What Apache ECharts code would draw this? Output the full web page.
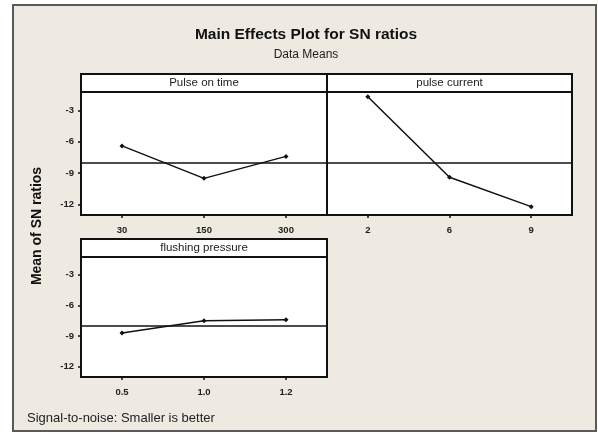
<!DOCTYPE html>
<html>
<head>
<meta charset="utf-8">
<script src="https://cdn.jsdelivr.net/npm/echarts@6/dist/echarts.min.js"></script>
<style>html,body{margin:0;padding:0;background:#fff;}#c{width:598px;height:434px;}</style>
</head>
<body>
<div id="c"></div>
<script>
// ---- data ----
const pulseOnTimeLevels = ['30', '150', '300'];
const pulseOnTimeSN = [-6.4, -9.5, -7.4];
const pulseCurrentLevels = ['2', '6', '9'];
const pulseCurrentSN = [-1.7, -9.4, -12.2];
const flushingPressureLevels = ['0.5', '1.0', '1.2'];
const flushingPressureSN = [-8.7, -7.5, -7.4];
const overallMean = -8.0;
const yTickValues = [-3, -6, -9, -12];
const panelTitles = ['Pulse on time', 'pulse current', 'flushing pressure'];
const chartTitle = 'Main Effects Plot for SN ratios';
const chartSubtitle = 'Data Means';
const yAxisTitle = 'Mean of SN ratios';
const footNote = 'Signal-to-noise: Smaller is better';

const FONT = 'Liberation Sans, Arial, sans-serif';
const grids = [
  {left: 81, top: 92, width: 246, height: 123},
  {left: 327, top: 92, width: 245, height: 123},
  {left: 81, top: 257, width: 246, height: 120}
];
const levels = [pulseOnTimeLevels, pulseCurrentLevels, flushingPressureLevels];
const values = [pulseOnTimeSN, pulseCurrentSN, flushingPressureSN];
const showYLabels = [true, false, true];
const HEADER = 18;

const chart = echarts.init(document.getElementById('c'), null, {renderer: 'canvas'});

const option = {
  backgroundColor: '#ffffff',
  animation: false,
  grid: grids.map(g => Object.assign({
    show: true, borderColor: '#111', borderWidth: 2, backgroundColor: '#ffffff', containLabel: false
  }, g)),
  xAxis: levels.map((cats, i) => ({
    type: 'category', gridIndex: i, data: cats, boundaryGap: true,
    axisLine: {show: false},
    axisTick: {show: true, alignWithLabel: true, length: 3, inside: false, lineStyle: {color: '#111', width: 1.5}},
    axisLabel: {show: true, margin: 10, fontSize: 9.5, fontWeight: 'bold', color: '#222', fontFamily: FONT},
    splitLine: {show: false}
  })),
  yAxis: levels.map((cats, i) => ({
    type: 'value', gridIndex: i, min: -13, max: -1.25,
    axisLine: {show: false},
    axisTick: {show: showYLabels[i], length: 3, customValues: yTickValues, lineStyle: {color: '#111', width: 1.5}},
    axisLabel: {show: showYLabels[i], customValues: yTickValues, margin: 7, fontSize: 9.5, fontWeight: 'bold', color: '#222', fontFamily: FONT},
    splitLine: {show: false}
  })),
  series: values.map((v, i) => ({
    type: 'line', xAxisIndex: i, yAxisIndex: i, data: v,
    symbol: 'diamond', symbolSize: 5,
    lineStyle: {color: '#111', width: 1.5},
    itemStyle: {color: '#111'},
    z: 3,
    markLine: {
      silent: true, symbol: ['none', 'none'], label: {show: false},
      lineStyle: {color: '#111', width: 1.5, type: 'solid'},
      data: [{yAxis: overallMean}]
    }
  })),
  graphic: [
    {type: 'rect', z: -10, shape: {x: 13, y: 5, width: 583, height: 426},
     style: {fill: '#EEEAE1', stroke: '#5a5a5a', lineWidth: 2}},
    {type: 'text', x: 306, y: 35, style: {text: chartTitle, font: 'bold 15.5px ' + FONT, fill: '#111', align: 'center', verticalAlign: 'middle'}},
    {type: 'text', x: 306, y: 55, style: {text: chartSubtitle, font: '12px ' + FONT, fill: '#222', align: 'center', verticalAlign: 'middle'}},
    {type: 'text', x: 37, y: 226, rotation: Math.PI / 2, style: {text: yAxisTitle, font: 'bold 14px ' + FONT, fill: '#111', align: 'center', verticalAlign: 'middle'}},
    {type: 'text', x: 27, y: 418, style: {text: footNote, font: '13px ' + FONT, fill: '#222', align: 'left', verticalAlign: 'middle'}}
  ].concat(grids.flatMap((g, i) => [
    {type: 'rect', z: 5, shape: {x: g.left, y: g.top - HEADER, width: g.width, height: HEADER},
     style: {fill: '#ffffff', stroke: '#111', lineWidth: 2}},
    {type: 'text', z: 6, x: g.left + g.width / 2, y: g.top - HEADER / 2,
     style: {text: panelTitles[i], font: '11.5px ' + FONT, fill: '#222', align: 'center', verticalAlign: 'middle'}}
  ]))
};
chart.setOption(option);
</script>
</body>
</html>
